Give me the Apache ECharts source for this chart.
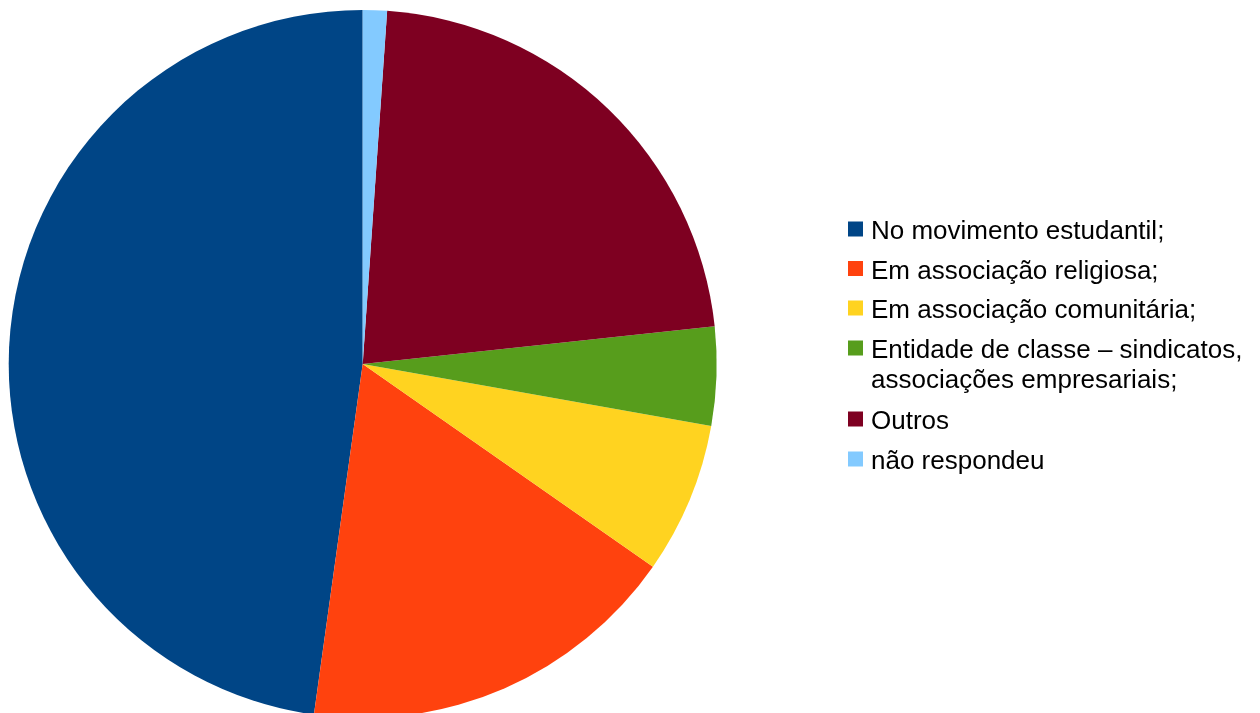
<!DOCTYPE html>
<html>
<head>
<meta charset="utf-8">
<script src="https://cdn.jsdelivr.net/npm/echarts@6/dist/echarts.min.js"></script>
<style>
  html, body { margin: 0; padding: 0; background: #fff; }
  #chart { width: 1260px; height: 713px; }
</style>
</head>
<body>
<div id="chart"></div>
<script>
// Data (percent shares)
const categories = [
  'No movimento estudantil;',
  'Em associação religiosa;',
  'Em associação comunitária;',
  'Entidade de classe – sindicatos, associações empresariais;',
  'Outros',
  'não respondeu'
];
const values = [47.8, 17.5, 6.9, 4.5, 22.2, 1.1];
const colors = ['#004586', '#ff420e', '#ffd320', '#579d1c', '#7e0021', '#83caff'];

const legendTops = [217, 256.5, 296, 336, 407, 447];

const chart = echarts.init(document.getElementById('chart'), null, { renderer: 'canvas' });

const textStyle = { fontFamily: 'Liberation Sans, Arial, sans-serif', fontSize: 26, lineHeight: 30, color: '#000' };

const legends = categories.map((name, i) => {
  const twoLine = name.indexOf(', ') > 0;
  const h = twoLine ? 51 : 21;
  return {
    left: 848,
    top: legendTops[i],
    orient: 'vertical',
    padding: 0,
    itemGap: 0,
    itemWidth: 18,
    itemHeight: h,
    selectedMode: false,
    icon: 'path://M0,0h15v15h-15z M18,' + h + ' L18,' + h,
    data: [name],
    formatter: twoLine ? (n => n.replace(', ', ',\n')) : (n => n),
    textStyle: textStyle
  };
});

chart.setOption({
  animation: false,
  color: colors,
  legend: legends,
  series: [{
    type: 'pie',
    center: [362.7, 364],
    radius: 354,
    startAngle: 90,
    clockwise: false,
    avoidLabelOverlap: false,
    label: { show: false },
    labelLine: { show: false },
    itemStyle: { borderWidth: 0 },
    emphasis: { disabled: true },
    data: categories.map((c, i) => ({ name: c, value: values[i] }))
  }]
});
</script>
</body>
</html>
